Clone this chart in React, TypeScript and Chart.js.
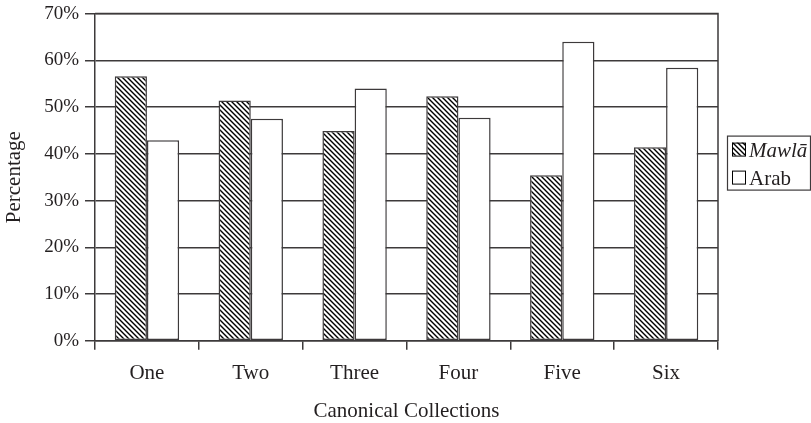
import React, { useEffect, useRef } from 'react';
import { Chart, registerables } from 'chart.js';

Chart.register(...registerables);

const categories = ['One', 'Two', 'Three', 'Four', 'Five', 'Six'];
const mawlaValues = [56.6, 51.4, 44.9, 52.3, 35.4, 41.4];
const arabValues = [42.9, 47.5, 54.0, 47.7, 64.0, 58.4];
const seriesNames = ['Mawlā', 'Arab'];
const yMax = 70;
const yStep = 10;

const FONT = "'Liberation Serif', 'DejaVu Serif', serif";
const INK = '#231f20';
const LINE = '#3d3a3b';

function makeHatch(): CanvasPattern | string {
  const size = 5;
  const c = document.createElement('canvas');
  c.width = size;
  c.height = size;
  const g = c.getContext('2d');
  if (!g) return '#888';
  g.fillStyle = '#ffffff';
  g.fillRect(0, 0, size, size);
  g.strokeStyle = '#000000';
  g.lineWidth = 1.4;
  g.beginPath();
  g.moveTo(-1, -1);
  g.lineTo(size + 1, size + 1);
  g.moveTo(-1, size - 1);
  g.lineTo(1, size + 1);
  g.moveTo(size - 1, -1);
  g.lineTo(size + 1, 1);
  g.stroke();
  return g.createPattern(c, 'repeat') || '#888';
}

const framePlugin = {
  id: 'frame',
  afterDatasetsDraw(chart: any) {
    const { ctx, chartArea } = chart;
    ctx.save();
    ctx.strokeStyle = LINE;
    ctx.lineWidth = 1.5;
    ctx.beginPath();
    ctx.moveTo(chartArea.left, chartArea.top);
    ctx.lineTo(chartArea.right, chartArea.top);
    ctx.lineTo(chartArea.right, chartArea.bottom);
    ctx.stroke();
    ctx.restore();
  },
};

const legendPlugin = {
  id: 'boxLegend',
  afterDraw(chart: any) {
    const { ctx, chartArea } = chart;
    const ds = chart.data.datasets;
    const x0 = chartArea.right + 9;
    const y0 = chartArea.top + 122;
    const w = chart.width - x0 - 1;
    const rowH = 28;
    const h = 54;
    ctx.save();
    ctx.strokeStyle = LINE;
    ctx.lineWidth = 1.2;
    ctx.strokeRect(x0 + 0.5, y0 + 0.5, w, h);
    ds.forEach((d: any, i: number) => {
      const sy = y0 + 7 + i * rowH;
      ctx.fillStyle = d.backgroundColor;
      ctx.fillRect(x0 + 5, sy, 13, 13);
      ctx.strokeStyle = '#000';
      ctx.lineWidth = 1;
      ctx.strokeRect(x0 + 5.5, sy + 0.5, 13, 13);
      ctx.fillStyle = INK;
      ctx.font = (i === 0 ? 'italic ' : '') + '21px ' + FONT;
      ctx.textBaseline = 'alphabetic';
      ctx.textAlign = 'left';
      ctx.fillText(d.label, x0 + 22, sy + 14);
    });
    ctx.restore();
  },
};

export default function App() {
  const ref = useRef<HTMLCanvasElement | null>(null);

  useEffect(() => {
    document.body.style.margin = '0';
    const canvas = ref.current;
    if (!canvas) return;
    const hatch = makeHatch();
    const chart = new Chart(canvas, {
      type: 'bar',
      data: {
        labels: categories,
        datasets: [
          {
            label: seriesNames[0],
            data: mawlaValues,
            backgroundColor: hatch as any,
            borderColor: LINE,
            borderWidth: 1.5,
            borderSkipped: false,
            categoryPercentage: 0.62,
            barPercentage: 1,
          },
          {
            label: seriesNames[1],
            data: arabValues,
            backgroundColor: '#ffffff',
            borderColor: LINE,
            borderWidth: 1.5,
            borderSkipped: false,
            categoryPercentage: 0.62,
            barPercentage: 1,
          },
        ],
      },
      options: {
        responsive: true,
        maintainAspectRatio: false,
        animation: false,
        layout: { padding: { top: 0, right: 93, left: 2, bottom: 1 } },
        plugins: {
          legend: { display: false },
          tooltip: { enabled: false },
        },
        scales: {
          x: {
            offset: true,
            grid: {
              display: true,
              offset: true,
              drawOnChartArea: false,
              drawTicks: true,
              tickLength: 9,
              color: LINE,
              lineWidth: 1.5,
            },
            border: { display: true, color: LINE, width: 1.5 },
            ticks: {
              color: INK,
              font: { family: FONT, size: 21 },
              padding: 11,
            },
            title: {
              display: true,
              text: 'Canonical Collections',
              color: INK,
              font: { family: FONT, size: 21, lineHeight: 1.0 },
              padding: { top: 4, bottom: 0 },
            },
          },
          y: {
            min: 0,
            max: yMax,
            ticks: {
              stepSize: yStep,
              color: INK,
              font: { family: FONT, size: 19, lineHeight: 0.8 },
              padding: 6,
              callback: (v: any) => v + '%',
            },
            grid: {
              color: LINE,
              lineWidth: 1.5,
              tickLength: 10,
            },
            border: { display: true, color: LINE, width: 1.5 },
            title: {
              display: true,
              text: 'Percentage',
              color: INK,
              font: { family: FONT, size: 21 },
              padding: { top: 0, bottom: 11 },
            },
          },
        },
      },
      plugins: [framePlugin, legendPlugin],
    });
    return () => chart.destroy();
  }, []);

  return (
    <div style={{ position: 'relative', width: 811, height: 423, background: '#fff' }}>
      <canvas ref={ref} />
    </div>
  );
}
